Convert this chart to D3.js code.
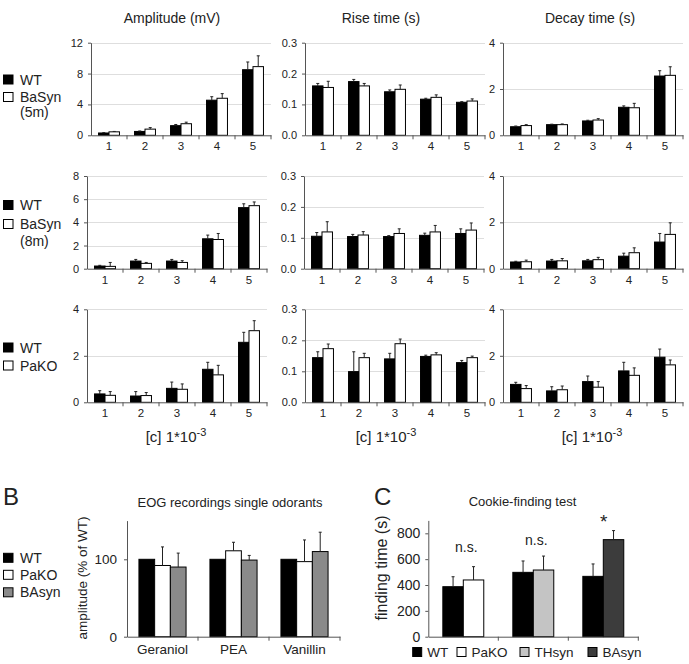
<!DOCTYPE html>
<html>
<head>
<meta charset="utf-8">
<script src="https://cdn.jsdelivr.net/npm/d3@7"></script>
<style>
  html, body { margin: 0; padding: 0; background: #fff; }
  svg { display: block; }
  text { font-family: "Liberation Sans", Arial, Helvetica, sans-serif; fill: #222; }
</style>
</head>
<body>
<svg id="chart" width="689" height="664"></svg>
<script>
// ---------------- DATA ----------------
const concentrations = ["1", "2", "3", "4", "5"];
const columnTitles = ["Amplitude (mV)", "Rise time (s)", "Decay time (s)"];

// Row 1: WT vs BaSyn (5m)
const r1AmpWT = [0.30, 0.50, 1.25, 4.55, 8.50];
const r1AmpWTErr = [0.05, 0.06, 0.15, 0.45, 1.00];
const r1AmpMut = [0.45, 0.80, 1.50, 4.80, 8.90];
const r1AmpMutErr = [0.05, 0.20, 0.20, 0.60, 1.40];
const r1RiseWT = [0.160, 0.174, 0.141, 0.117, 0.107];
const r1RiseWTErr = [0.008, 0.007, 0.006, 0.003, 0.002];
const r1RiseMut = [0.155, 0.160, 0.149, 0.123, 0.111];
const r1RiseMutErr = [0.020, 0.008, 0.014, 0.008, 0.007];
const r1DecWT = [0.37, 0.46, 0.62, 1.21, 2.56];
const r1DecWTErr = [0.03, 0.02, 0.03, 0.06, 0.23];
const r1DecMut = [0.42, 0.46, 0.66, 1.19, 2.59];
const r1DecMutErr = [0.04, 0.03, 0.06, 0.19, 0.37];

// Row 2: WT vs BaSyn (8m)
const r2AmpWT = [0.23, 0.66, 0.66, 2.58, 5.27];
const r2AmpWTErr = [0.06, 0.14, 0.14, 0.32, 0.33];
const r2AmpMut = [0.20, 0.46, 0.54, 2.52, 5.44];
const r2AmpMutErr = [0.34, 0.08, 0.15, 0.52, 0.32];
const r2RiseWT = [0.105, 0.104, 0.104, 0.108, 0.114];
const r2RiseWTErr = [0.012, 0.007, 0.003, 0.007, 0.015];
const r2RiseMut = [0.119, 0.109, 0.114, 0.119, 0.125];
const r2RiseMutErr = [0.033, 0.011, 0.015, 0.021, 0.023];
const r2DecWT = [0.29, 0.33, 0.34, 0.54, 1.15];
const r2DecWTErr = [0.03, 0.07, 0.06, 0.13, 0.37];
const r2DecMut = [0.30, 0.34, 0.39, 0.69, 1.48];
const r2DecMutErr = [0.07, 0.10, 0.10, 0.21, 0.50];

// Row 3: WT vs PaKO
const r3AmpWT = [0.36, 0.27, 0.60, 1.42, 2.58];
const r3AmpWTErr = [0.14, 0.19, 0.27, 0.30, 0.43];
const r3AmpMut = [0.30, 0.29, 0.56, 1.18, 3.08];
const r3AmpMutErr = [0.16, 0.13, 0.23, 0.41, 0.43];
const r3RiseWT = [0.144, 0.099, 0.140, 0.148, 0.128];
const r3RiseWTErr = [0.019, 0.064, 0.018, 0.004, 0.007];
const r3RiseMut = [0.173, 0.144, 0.189, 0.153, 0.144];
const r3RiseMutErr = [0.015, 0.014, 0.015, 0.007, 0.005];
const r3DecWT = [0.77, 0.49, 0.89, 1.35, 1.94];
const r3DecWTErr = [0.09, 0.18, 0.24, 0.37, 0.35];
const r3DecMut = [0.59, 0.54, 0.65, 1.16, 1.61];
const r3DecMutErr = [0.13, 0.16, 0.24, 0.32, 0.21];

const rowAmpTicks = [[0, 4, 8, 12], [0, 2, 4, 6, 8], [0, 2, 4]];
const riseTicks = [0, 0.1, 0.2, 0.3];
const decayTicks = [0, 2, 4];
const rowLegends = [["WT", "BaSyn", "(5m)"], ["WT", "BaSyn", "(8m)"], ["WT", "PaKO"]];

// Panel B
const odorants = ["Geraniol", "PEA", "Vanillin"];
const bSeries = ["WT", "PaKO", "BAsyn"];
const bWT = [100, 100, 100];
const bWTErr = [0, 0, 0];
const bPaKO = [92, 111, 97];
const bPaKOErr = [24, 11, 28];
const bBAsyn = [90, 99, 110];
const bBAsynErr = [18, 6, 25];
const bTicks = [0, 100];

// Panel C
const cGroups = ["g1", "g2", "g3"];
const cSeries = ["WT", "PaKO", "THsyn", "BAsyn"];
const cWT = [387, 498, 467];
const cWTErr = [77, 88, 96];
const cMut = [439, 516, 751];
const cMutErr = [103, 108, 70];
const cMutName = ["PaKO", "THsyn", "BAsyn"];
const cSig = ["n.s.", "n.s.", "*"];
const cTicks = [0, 200, 400, 600, 800];

// ---------------- STYLE ----------------
const colors = { WT: "#000", BaSyn: "#fff", PaKO: "#fff", BAsynB: "#8a8a8a", THsyn: "#c4c4c4", BAsyn: "#3c3c3c" };
const axisColor = "#555";
const gridColor = "#dedede";

const svg = d3.select("#chart");
svg.append("rect").attr("width", 689).attr("height", 664).attr("fill", "#fff");

function drawPanel(o) {
  const g = svg.append("g");
  const y = d3.scaleLinear().domain([0, o.max]).range([o.bottom, o.top]);
  const x = d3.scaleBand().domain(o.cats).range([o.left, o.left + o.width]).padding(0);
  const sx = d3.scaleBand().domain(o.series.map((s, i) => i)).range([0, x.bandwidth()])
    .paddingInner(0).paddingOuter(o.outerPad);

  if (o.grid) {
    g.selectAll(".grid").data(o.ticks.filter(t => t > 0)).enter().append("line")
      .attr("x1", o.left).attr("x2", o.left + o.width)
      .attr("y1", d => Math.round(y(d)) + 0.5).attr("y2", d => Math.round(y(d)) + 0.5)
      .attr("stroke", gridColor).attr("stroke-width", 1);
  }

  // bars
  o.series.forEach((s, si) => {
    const bars = o.cats.map((c, ci) => ({ c, v: s.values[ci], e: s.errs ? s.errs[ci] : 0 }));
    g.selectAll(null).data(bars).enter().append("rect")
      .attr("x", d => x(d.c) + sx(si))
      .attr("y", d => y(d.v))
      .attr("width", sx.bandwidth())
      .attr("height", d => y(0) - y(d.v))
      .attr("fill", s.fill).attr("stroke", "#000").attr("stroke-width", 1);
    g.selectAll(null).data(bars.filter(d => d.e > 0)).enter().append("path")
      .attr("d", d => {
        const cx = x(d.c) + sx(si) + sx.bandwidth() / 2;
        const y1 = y(d.v), y2 = y(d.v + d.e);
        return `M${cx},${y1}V${y2}M${cx - 1.5},${y2}H${cx + 1.5}`;
      })
      .attr("stroke", "#222").attr("stroke-width", 1).attr("fill", "none");
  });

  // y axis
  const ya = g.append("g").attr("transform", `translate(${o.left},0)`)
    .call(d3.axisLeft(y).tickValues(o.ticks).tickFormat(o.fmt).tickSize(3).tickSizeOuter(0).tickPadding(o.yPad || 4));
  ya.selectAll("path,line").attr("stroke", axisColor);
  ya.selectAll("text").style("font-size", o.yFont + "px").attr("fill", "#222");

  // x axis
  const xa = g.append("g").attr("transform", `translate(0,${o.bottom})`)
    .call(d3.axisBottom(x).tickSize(0).tickSizeOuter(0).tickPadding(o.xPad).tickFormat(o.xfmt || (d => d)));
  xa.select(".domain").attr("stroke", axisColor);
  xa.selectAll("text").style("font-size", o.xFont + "px").attr("fill", "#222");
  g.selectAll(null).data(o.cats).enter().append("line")
    .attr("x1", d => x(d) + x.bandwidth()).attr("x2", d => x(d) + x.bandwidth())
    .attr("y1", o.bottom).attr("y2", o.bottom + 4)
    .attr("stroke", axisColor);
  return { x, y, sx, g };
}

// ---------------- PANEL A ----------------
const rowsY = [[42.7, 135.3], [176, 268.7], [309.3, 402.3]];
const colsX = [[91, 305, 503], [87, 304, 503], [87, 305, 503]];
const rowData = [
  [[r1AmpWT, r1AmpWTErr, r1AmpMut, r1AmpMutErr], [r1RiseWT, r1RiseWTErr, r1RiseMut, r1RiseMutErr], [r1DecWT, r1DecWTErr, r1DecMut, r1DecMutErr]],
  [[r2AmpWT, r2AmpWTErr, r2AmpMut, r2AmpMutErr], [r2RiseWT, r2RiseWTErr, r2RiseMut, r2RiseMutErr], [r2DecWT, r2DecWTErr, r2DecMut, r2DecMutErr]],
  [[r3AmpWT, r3AmpWTErr, r3AmpMut, r3AmpMutErr], [r3RiseWT, r3RiseWTErr, r3RiseMut, r3RiseMutErr], [r3DecWT, r3DecWTErr, r3DecMut, r3DecMutErr]]
];

rowData.forEach((row, ri) => {
  row.forEach((d, ci) => {
    const ticks = ci === 0 ? rowAmpTicks[ri] : (ci === 1 ? riseTicks : decayTicks);
    drawPanel({
      left: colsX[ri][ci], width: 180, top: rowsY[ri][0], bottom: rowsY[ri][1],
      max: ticks[ticks.length - 1], ticks, fmt: ci === 1 ? d3.format(".1f") : d3.format("d"),
      cats: concentrations, outerPad: 0.72, grid: true,
      series: [{ values: d[0], errs: d[1], fill: "#000" }, { values: d[2], errs: d[3], fill: "#fff" }],
      yFont: 11, xFont: 11.5, xPad: 7, yPad: 5
    });
  });
});

// column titles
const titleX = [172, 381, 590];
columnTitles.forEach((t, i) => {
  svg.append("text").attr("x", titleX[i]).attr("y", 23).attr("text-anchor", "middle")
    .style("font-size", "14px").text(t);
});

// x-axis caption under row 3
[[176, 0], [386, 1], [592, 2]].forEach(([cx]) => {
  const t = svg.append("text").attr("x", cx).attr("y", 441.5).attr("text-anchor", "middle").style("font-size", "15px");
  t.append("tspan").text("[c] 1*10");
  t.append("tspan").attr("dy", -6).style("font-size", "11px").text("-3");
});

// row legends
const legendY = [[75, 92.5, 117], [200.5, 219.5, 246], [343, 361]];
rowLegends.forEach((lab, ri) => {
  const ys = legendY[ri];
  [0, 1].forEach(k => {
    svg.append("rect").attr("x", 3.5).attr("y", ys[k]).attr("width", 9.5).attr("height", 9)
      .attr("fill", k === 0 ? "#000" : "#fff").attr("stroke", "#000").attr("stroke-width", 1);
    svg.append("text").attr("x", 20).attr("y", ys[k] + 9.5).style("font-size", "14px").text(lab[k]);
  });
  if (lab[2]) svg.append("text").attr("x", 20).attr("y", ys[2]).style("font-size", "14px").text(lab[2]);
});

// ---------------- PANEL B ----------------
svg.append("text").attr("x", 3).attr("y", 505).style("font-size", "24px").text("B");
svg.append("text").attr("x", 230).attr("y", 506.5).attr("text-anchor", "middle").style("font-size", "13px")
  .text("EOG recordings single odorants");
drawPanel({
  left: 127, width: 213, top: 520.6, bottom: 636.7, max: 150, ticks: bTicks, fmt: d3.format("d"),
  cats: odorants, outerPad: 0.76, grid: false,
  series: [{ values: bWT, errs: bWTErr, fill: colors.WT }, { values: bPaKO, errs: bPaKOErr, fill: colors.PaKO },
           { values: bBAsyn, errs: bBAsynErr, fill: colors.BAsynB }],
  yFont: 13.5, xFont: 13.5, xPad: 8, yPad: 7
});
svg.append("text").attr("transform", "translate(87,578) rotate(-90)").attr("text-anchor", "middle")
  .style("font-size", "13.5px").text("amplitude (% of WT)");
const bLegY = [553.3, 570.3, 587.8];
const bFill = [colors.WT, colors.PaKO, colors.BAsynB];
bSeries.forEach((s, i) => {
  svg.append("rect").attr("x", 3.5).attr("y", bLegY[i]).attr("width", 9.5).attr("height", 9)
    .attr("fill", bFill[i]).attr("stroke", "#000");
  svg.append("text").attr("x", 20).attr("y", bLegY[i] + 9.3).style("font-size", "14px").text(s);
});

// ---------------- PANEL C ----------------
svg.append("text").attr("x", 374).attr("y", 505).style("font-size", "24px").text("C");
svg.append("text").attr("x", 522.5).attr("y", 505.5).attr("text-anchor", "middle").style("font-size", "13px")
  .text("Cookie-finding test");
const cFill = cMutName.map(n => colors[n]);
const pc = drawPanel({
  left: 428.3, width: 210, top: 520.4, bottom: 636.7, max: 900, ticks: cTicks, fmt: d3.format("d"),
  cats: cGroups, outerPad: 0.71, grid: false,
  series: [{ values: cWT, errs: cWTErr, fill: colors.WT }, { values: cMut, errs: cMutErr, fill: "#fff" }],
  yFont: 14, xFont: 1, xfmt: () => "", xPad: 0, yPad: 5
});
// recolor the mutant bars per group
pc.g.selectAll("rect").filter(function (d) { return d && d.c && cGroups.indexOf(d.c) >= 0 && d3.select(this).attr("fill") === "#fff"; })
  .attr("fill", d => cFill[cGroups.indexOf(d.c)]);
svg.append("text").attr("transform", "translate(387,568) rotate(-90)").attr("text-anchor", "middle")
  .style("font-size", "16px").text("finding time (s)");
// significance labels
const sigY = [551.7, 545, 528];
cGroups.forEach((gname, i) => {
  const cx = pc.x(gname) + pc.x.bandwidth() / 2 + (i === 2 ? 0 : 3);
  svg.append("text").attr("x", i === 2 ? cx + 0.5 : cx).attr("y", sigY[i]).attr("text-anchor", "middle")
    .style("font-size", i === 2 ? "19px" : "14px").text(cSig[i]);
});
// legend C
const cLegX = [412.7, 457, 520, 588];
const cLegFill = [colors.WT, colors.PaKO, colors.THsyn, colors.BAsyn];
cSeries.forEach((s, i) => {
  svg.append("rect").attr("x", cLegX[i]).attr("y", 647.5).attr("width", 9).attr("height", 9)
    .attr("fill", cLegFill[i]).attr("stroke", "#000");
  svg.append("text").attr("x", cLegX[i] + 14.5).attr("y", 656.5).style("font-size", "13.5px").text(s);
});
</script>
</body>
</html>
